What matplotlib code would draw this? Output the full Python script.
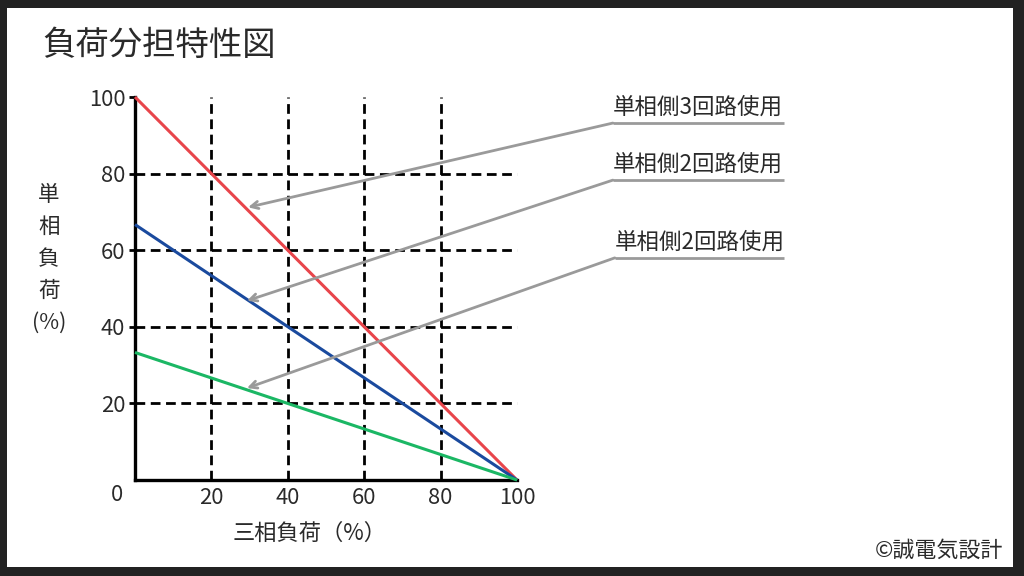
import matplotlib
matplotlib.use("Agg")
import matplotlib.pyplot as plt
from matplotlib.patches import Rectangle

plt.rcParams['font.family'] = ['Noto Sans CJK JP', 'DejaVu Sans']

# ---- data ----
three_phase = [0, 100]
series_names = ["単相側3回路使用", "単相側2回路使用", "単相側2回路使用"]
single_phase_3 = [100, 0]
single_phase_2 = [66.7, 0]
single_phase_1 = [33.3, 0]
series_colors = ["#e8454b", "#1a4a9e", "#1bb764"]
x_ticks = [20, 40, 60, 80, 100]
y_ticks = [20, 40, 60, 80, 100]
grid_vals = [20, 40, 60, 80]
# arrow tips (data coords on the lines) and label anchor (left end of underline)
arrow_tips = [(29.6, 71.2), (29.3, 46.8), (29.3, 24.0)]
label_anchor = [(125.1, 93.2), (125.1, 78.3), (125.6, 58.0)]
underline_end = 169.8

fig = plt.figure(figsize=(10.24, 5.76), dpi=100, facecolor="#222222")
bg = fig.add_axes([0, 0, 1, 1], zorder=-10)
bg.set_xlim(0, 1024)
bg.set_ylim(576, 0)
bg.axis("off")
bg.add_patch(Rectangle((7, 8), 1013 - 7, 567 - 8, facecolor="white", edgecolor="none"))

ax = fig.add_axes([135/1024, 1-480/576, (517-135)/1024, (480-97)/576], zorder=1)
ax.set_facecolor("none")
ax.set_xlim(0, 100)
ax.set_ylim(0, 100)

for g in grid_vals:
    ax.plot([g, g], [0, 100], color="black", lw=2.0, ls=(0, (3.5, 2)), zorder=1, clip_on=False)
    ax.plot([0, 100], [g, g], color="black", lw=2.0, ls=(0, (3.5, 2)), zorder=1, clip_on=False)

for ys, c in zip([single_phase_3, single_phase_2, single_phase_1], series_colors):
    ax.plot(three_phase, ys, color=c, lw=2.2, zorder=3, clip_on=False, solid_capstyle="butt")

for name, tip, anc in zip(series_names, arrow_tips, label_anchor):
    ax.annotate("", xy=tip, xytext=anc, xycoords="data", textcoords="data",
                arrowprops=dict(arrowstyle="->", color="#9a9a9a", lw=2.0,
                                shrinkA=0, shrinkB=0, mutation_scale=13),
                annotation_clip=False, zorder=4)
    ax.plot([anc[0], underline_end], [anc[1], anc[1]], color="#9a9a9a", lw=2.0,
            clip_on=False, zorder=4, solid_capstyle="butt")
    ax.text(anc[0], anc[1] + 1.1, name, fontsize=16.2, color="#2a2a2a",
            ha="left", va="bottom", clip_on=False)

for s in ["top", "right"]:
    ax.spines[s].set_visible(False)
for s in ["left", "bottom"]:
    ax.spines[s].set_linewidth(2.4)
    ax.spines[s].set_color("black")
    ax.spines[s].set_capstyle("projecting")

ax.set_xticks(x_ticks)
ax.set_yticks(y_ticks)
ax.tick_params(axis="x", length=0, pad=5, labelsize=15.8, labelcolor="#2a2a2a")
ax.tick_params(axis="y", length=4, width=2, pad=3, labelsize=15.8, labelcolor="#2a2a2a")
ax.text(-4.7, -3.9, "0", fontsize=15.8, color="#2a2a2a", ha="center", va="center", clip_on=False)

# titles / labels
fig.text(42/1024, 1-45/576, "負荷分担特性図", fontsize=24, color="#2a2a2a", ha="left", va="center")
fig.text(310/1024, 1-533/576, "三相負荷（%）", fontsize=16, color="#2a2a2a", ha="center", va="center")
ylab_chars = ["単", "相", "負", "荷", "(%)"]
ylab_y = [195, 227, 259, 291, 323]
for ch, yy in zip(ylab_chars, ylab_y):
    fig.text(49/1024, 1-yy/576, ch, fontsize=15.5, color="#2a2a2a", ha="center", va="center")
fig.text(1003/1024, 1-551/576, "©誠電気設計", fontsize=15.8, color="#2a2a2a", ha="right", va="center")

fig.savefig("out.png", dpi=100, facecolor=fig.get_facecolor())
